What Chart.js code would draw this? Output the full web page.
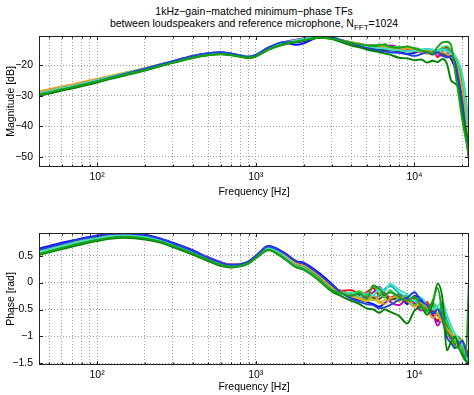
<!DOCTYPE html>
<html>
<head>
<meta charset="utf-8">
<script src="https://cdn.jsdelivr.net/npm/chart.js@4/dist/chart.umd.min.js"></script>
<style>
    html, body { margin: 0; padding: 0; background: #fff; }
    body { width: 474px; height: 395px; position: relative; overflow: hidden; font-family: "Liberation Sans", Arial, sans-serif; }
    .fig-title { position: absolute; left: 39px; top: 5px; width: 430px; text-align: center; font-size: 10.5px; line-height: 12px; color: #000; }
    .fig-title sub { font-size: 8px; vertical-align: -3px; line-height: 0; }
    #wrapTop { position: absolute; left: 0; top: 0; }
    #wrapBot { position: absolute; left: 0; top: 200px; }
</style>
</head>
<body>
<div class="fig-title">1kHz−gain−matched minimum−phase TFs<br>between loudspeakers and reference microphone, N<sub>FFT</sub>=1024</div>
<div id="wrapTop"><canvas id="magChart" width="474" height="200"></canvas></div>
<div id="wrapBot"><canvas id="phaseChart" width="474" height="195"></canvas></div>
<script>
// frequency bins (Hz)
const FREQ = [43.07, 50, 60, 70, 80, 100, 120, 150, 200, 250, 300, 400, 500, 600, 700, 800, 900, 1000, 1200, 1500, 1800, 2000, 2500, 3000, 3500, 4000, 4500, 5000, 5500, 6000, 6500, 7000, 8000, 9000, 10000, 11000, 12000, 13000, 14000, 15000, 16000, 17000, 18000, 19000, 20000, 21000, 22050];

// grid / tick positions
const X_GRID = [50, 60, 70, 80, 90, 100, 200, 300, 400, 500, 600, 700, 800, 900, 1000, 2000, 3000, 4000, 5000, 6000, 7000, 8000, 9000, 10000, 20000];
const X_LABELS = { 100: '10²', 1000: '10³', 10000: '10⁴' };
const MAG_TICKS = [-50, -40, -30, -20];
const PHASE_TICKS = [-1.5, -1, -0.5, 0, 0.5];

const COLORS = ['#0000ff', '#ff0000', '#00bfbf', '#bf00bf', '#c8c800', '#404040', '#33cc33', '#e0a030', '#40e0c0', '#2040e0', '#008000', '#1aa01a'];

// magnitude [dB], one array per loudspeaker
const mBlue   = [-29.9,-29.2,-28.2,-27.4,-26.7,-25.4,-24.3,-23.0,-21.3,-19.9,-18.8,-17.1,-16.2,-15.9,-16.3,-16.9,-17.4,-16.8,-14.4,-12.6,-13.4,-12.9,-11.0,-11.0,-11.9,-12.7,-13.4,-14.0,-14.3,-14.8,-15.2,-15.0,-15.6,-16.3,-16.0,-15.2,-14.8,-15.3,-16.1,-15.9,-16.8,-18.0,-21.0,-26.0,-33.0,-42.0,-50.0];
const mRed    = [-29.2,-28.5,-27.5,-26.8,-26.1,-24.9,-23.9,-22.7,-21.2,-19.9,-18.9,-17.3,-16.4,-16.1,-16.4,-16.9,-17.3,-16.8,-14.5,-12.8,-12.0,-11.5,-10.8,-11.2,-12.0,-12.6,-13.2,-13.6,-14.0,-14.1,-13.8,-14.3,-14.6,-14.4,-15.0,-15.8,-16.2,-15.0,-17.4,-15.5,-14.2,-16.0,-18.5,-20.0,-26.0,-35.0,-46.0];
const mCyan   = [-29.0,-28.3,-27.3,-26.6,-25.9,-24.8,-23.8,-22.6,-21.1,-19.8,-18.8,-17.2,-16.4,-16.1,-16.4,-16.9,-17.3,-16.7,-14.3,-12.5,-11.8,-11.3,-10.6,-11.0,-12.0,-12.8,-13.4,-14.1,-14.0,-13.9,-14.2,-14.5,-14.2,-14.6,-14.9,-15.1,-15.6,-15.9,-15.2,-14.6,-15.0,-15.8,-17.5,-20.5,-24.0,-30.0,-44.0];
const mMag    = [-29.1,-28.4,-27.4,-26.7,-26.0,-24.9,-23.9,-22.7,-21.2,-19.9,-18.9,-17.3,-16.4,-16.2,-16.5,-17.0,-17.4,-16.8,-14.4,-12.6,-11.7,-11.2,-10.7,-11.1,-12.1,-12.6,-13.0,-13.6,-13.4,-13.8,-14.0,-13.6,-14.2,-14.8,-15.0,-15.6,-16.0,-15.7,-16.5,-17.0,-16.2,-15.8,-19.5,-24.0,-30.0,-38.0,-48.0];
const mYel    = [-28.7,-28.0,-27.1,-26.4,-25.7,-24.6,-23.6,-22.5,-21.0,-19.8,-18.8,-17.3,-16.5,-16.3,-16.6,-17.1,-17.5,-17.0,-14.8,-13.0,-12.1,-11.6,-10.9,-11.2,-12.0,-12.5,-13.1,-13.5,-13.9,-14.2,-14.0,-14.4,-14.6,-14.1,-14.8,-15.6,-16.2,-16.5,-16.0,-16.6,-17.2,-16.8,-18.0,-22.0,-29.0,-40.0,-52.0];
const mGray   = [-29.4,-28.7,-27.7,-27.0,-26.3,-25.1,-24.1,-22.9,-21.4,-20.1,-19.1,-17.5,-16.6,-16.3,-16.6,-17.1,-17.5,-17.0,-14.7,-13.0,-12.3,-11.8,-11.0,-11.4,-12.3,-13.0,-13.6,-14.2,-14.6,-14.7,-14.9,-15.2,-15.3,-15.4,-15.6,-15.2,-15.0,-15.8,-15.6,-16.4,-17.0,-17.5,-20.0,-24.5,-31.0,-39.0,-49.0];
const mLime   = [-29.5,-28.8,-27.8,-27.1,-26.4,-25.2,-24.2,-23.0,-21.5,-20.2,-19.2,-17.6,-16.7,-16.4,-16.7,-17.2,-17.6,-17.1,-14.9,-13.2,-12.4,-11.9,-11.1,-11.5,-12.3,-12.9,-13.4,-13.7,-13.5,-13.3,-13.8,-14.2,-14.0,-14.5,-14.4,-14.9,-15.3,-15.1,-15.5,-14.3,-13.8,-15.2,-17.0,-20.0,-25.0,-33.0,-45.0];
const mTan    = [-28.6,-27.9,-27.0,-26.3,-25.6,-24.5,-23.6,-22.5,-21.1,-19.9,-18.9,-17.4,-16.6,-16.3,-16.6,-17.1,-17.5,-17.0,-14.7,-12.9,-12.0,-11.6,-10.9,-11.3,-12.2,-12.8,-13.3,-13.8,-14.1,-14.0,-14.3,-14.8,-15.0,-14.6,-15.2,-15.5,-15.1,-16.0,-16.3,-15.8,-16.5,-17.2,-19.0,-23.0,-28.0,-37.0,-47.0];
const mTurq   = [-29.2,-28.5,-27.5,-26.8,-26.1,-24.9,-23.9,-22.7,-21.2,-19.9,-18.9,-17.3,-16.4,-16.1,-16.4,-16.9,-17.3,-16.8,-14.5,-12.7,-11.9,-11.4,-10.7,-11.1,-12.0,-12.7,-13.3,-13.8,-14.2,-14.5,-14.6,-14.9,-15.2,-15.5,-15.4,-15.0,-14.7,-14.9,-15.4,-15.0,-15.5,-16.2,-17.0,-19.0,-23.0,-31.0,-43.0];
const mBlue2  = [-29.8,-29.1,-28.1,-27.3,-26.6,-25.3,-24.2,-22.9,-21.2,-19.8,-18.7,-17.0,-16.1,-15.8,-16.2,-16.8,-17.3,-16.7,-14.3,-12.5,-12.6,-12.2,-10.8,-11.0,-12.0,-12.9,-13.7,-14.5,-14.9,-15.3,-15.6,-15.8,-16.0,-16.5,-17.0,-16.4,-15.8,-16.6,-15.8,-16.9,-17.5,-17.0,-19.0,-25.0,-32.0,-41.0,-51.0];
const mGreen  = [-30.0,-29.3,-28.3,-27.6,-26.9,-25.7,-24.6,-23.4,-21.8,-20.4,-19.3,-17.7,-16.8,-16.5,-16.8,-17.3,-17.7,-17.2,-15.0,-13.3,-12.5,-12.0,-11.1,-11.4,-12.6,-13.6,-14.2,-14.9,-15.4,-15.8,-16.2,-16.6,-17.6,-17.8,-18.4,-18.2,-19.2,-18.6,-19.0,-18.0,-19.5,-25.0,-26.0,-28.0,-36.0,-41.0,-46.0];
const mGreen2 = [-29.6,-28.9,-27.9,-27.2,-26.5,-25.3,-24.3,-23.1,-21.6,-20.3,-19.2,-17.6,-16.7,-16.4,-16.7,-17.2,-17.6,-17.1,-14.9,-13.1,-12.3,-11.9,-11.0,-11.3,-12.1,-12.7,-13.2,-13.5,-13.8,-13.6,-13.2,-14.0,-14.4,-13.9,-14.6,-15.3,-15.6,-16.2,-14.0,-12.6,-12.4,-13.5,-22.0,-30.0,-38.0,-44.0,-50.0];

// phase [rad], one array per loudspeaker
const pBlue   = [0.63,0.68,0.74,0.78,0.82,0.87,0.91,0.92,0.89,0.82,0.74,0.60,0.47,0.38,0.33,0.34,0.39,0.49,0.68,0.56,0.40,0.37,0.18,-0.02,-0.20,-0.28,-0.32,-0.36,-0.40,-0.45,-0.38,-0.30,-0.22,-0.40,-0.25,-0.30,-0.50,-0.60,-0.72,-0.55,-0.85,-1.00,-1.10,-1.05,-1.20,-1.30,-1.50];
const pRed    = [0.58,0.63,0.69,0.74,0.78,0.83,0.87,0.89,0.86,0.80,0.72,0.58,0.46,0.37,0.33,0.34,0.39,0.49,0.66,0.52,0.36,0.33,0.14,-0.08,-0.15,-0.14,-0.22,-0.18,-0.10,-0.24,-0.20,-0.28,-0.22,-0.30,-0.40,-0.46,-0.36,-0.60,-0.70,-0.45,-0.78,-0.95,-1.15,-1.02,-1.10,-1.20,-1.40];
const pCyan   = [0.57,0.62,0.68,0.73,0.77,0.82,0.86,0.88,0.85,0.79,0.71,0.57,0.45,0.36,0.32,0.33,0.38,0.48,0.63,0.47,0.30,0.26,0.06,-0.13,-0.20,-0.23,-0.18,-0.28,-0.32,-0.22,-0.12,-0.06,-0.20,-0.28,-0.32,-0.45,-0.50,-0.42,-0.58,-0.40,-0.70,-0.90,-1.05,-1.20,-1.30,-1.40,-1.53];
const pMag    = [0.58,0.63,0.69,0.74,0.78,0.83,0.87,0.89,0.86,0.80,0.72,0.58,0.46,0.37,0.33,0.34,0.39,0.49,0.65,0.51,0.34,0.31,0.12,-0.10,-0.16,-0.24,-0.30,-0.26,-0.18,-0.08,-0.20,-0.35,-0.42,-0.30,-0.38,-0.52,-0.44,-0.55,-0.80,-0.66,-0.88,-1.05,-0.98,-1.12,-1.22,-1.35,-1.48];
const pYel    = [0.56,0.61,0.67,0.72,0.76,0.81,0.85,0.87,0.84,0.78,0.70,0.56,0.44,0.35,0.31,0.32,0.37,0.47,0.63,0.49,0.32,0.29,0.10,-0.12,-0.22,-0.26,-0.30,-0.35,-0.30,-0.38,-0.32,-0.28,-0.35,-0.26,-0.30,-0.42,-0.55,-0.48,-0.62,-0.75,-0.92,-0.98,-1.08,-1.18,-1.28,-1.38,-1.52];
const pGray   = [0.57,0.62,0.68,0.73,0.77,0.82,0.86,0.88,0.85,0.79,0.71,0.57,0.45,0.36,0.32,0.33,0.38,0.48,0.64,0.50,0.33,0.30,0.11,-0.09,-0.18,-0.20,-0.24,-0.22,-0.28,-0.30,-0.24,-0.32,-0.28,-0.36,-0.28,-0.40,-0.48,-0.52,-0.60,-0.58,-0.82,-1.00,-1.02,-1.10,-1.18,-1.30,-1.45];
const pLime   = [0.55,0.60,0.66,0.71,0.75,0.80,0.84,0.86,0.83,0.77,0.69,0.55,0.43,0.34,0.30,0.31,0.36,0.46,0.62,0.48,0.31,0.28,0.08,-0.11,-0.17,-0.21,-0.16,-0.25,-0.06,-0.20,-0.28,-0.14,-0.30,-0.24,-0.42,-0.36,-0.55,-0.38,-0.48,-0.62,-0.75,-0.90,-1.12,-1.00,-1.25,-1.35,-1.50];
const pTan    = [0.59,0.64,0.70,0.75,0.79,0.84,0.88,0.89,0.86,0.80,0.72,0.58,0.46,0.37,0.33,0.34,0.39,0.49,0.65,0.52,0.35,0.32,0.13,-0.08,-0.18,-0.25,-0.28,-0.32,-0.24,-0.34,-0.40,-0.30,-0.26,-0.34,-0.45,-0.38,-0.46,-0.66,-0.58,-0.70,-0.85,-0.95,-1.00,-1.15,-1.05,-1.28,-1.45];
const pTurq   = [0.57,0.62,0.68,0.73,0.77,0.82,0.86,0.88,0.85,0.79,0.71,0.57,0.45,0.36,0.32,0.33,0.38,0.48,0.64,0.49,0.31,0.27,0.05,-0.15,-0.22,-0.18,-0.26,-0.20,-0.24,-0.10,-0.16,-0.02,-0.14,-0.22,-0.34,-0.28,-0.42,-0.50,-0.44,-0.35,-0.60,-0.80,-0.95,-1.05,-1.15,-1.30,-1.55];
const pBlue2  = [0.61,0.66,0.72,0.77,0.81,0.86,0.90,0.91,0.88,0.81,0.73,0.59,0.46,0.37,0.33,0.34,0.39,0.50,0.67,0.55,0.39,0.35,0.16,-0.04,-0.20,-0.30,-0.36,-0.40,-0.42,-0.48,-0.46,-0.42,-0.32,-0.28,-0.18,-0.35,-0.42,-0.58,-0.50,-0.68,-1.02,-1.12,-1.22,-1.15,-1.08,-1.25,-1.42];
const pGreen  = [0.51,0.56,0.62,0.67,0.71,0.77,0.81,0.83,0.80,0.74,0.66,0.52,0.40,0.31,0.28,0.30,0.35,0.45,0.60,0.45,0.28,0.24,0.04,-0.16,-0.26,-0.34,-0.40,-0.48,-0.50,-0.56,-0.50,-0.54,-0.62,-0.76,-0.52,-0.46,-0.60,-0.40,-0.02,-0.30,-1.26,-1.10,-1.00,-1.20,-1.35,-1.45,-1.50];
const pGreen2 = [0.53,0.58,0.64,0.69,0.73,0.79,0.83,0.85,0.82,0.76,0.68,0.54,0.42,0.33,0.29,0.31,0.36,0.46,0.61,0.46,0.29,0.25,0.05,-0.14,-0.20,-0.25,-0.20,-0.30,-0.05,-0.12,-0.22,-0.18,-0.26,-0.34,-0.26,-0.44,-0.52,-0.34,-0.10,-0.58,-0.92,-1.02,-1.18,-1.22,-1.30,-1.40,0.05];

const MAG = [mBlue, mRed, mCyan, mMag, mYel, mGray, mLime, mTan, mTurq, mBlue2, mGreen, mGreen2];
const PHASE = [pBlue, pRed, pCyan, pMag, pYel, pGray, pLime, pTan, pTurq, pBlue2, pGreen, pGreen2];

const FONT = { family: '"Liberation Sans", Arial, sans-serif', size: 10.5 };
const GRID_COLOR = '#a0a0a0';

function fmtNum(v) {
    return String(v).replace('-', '−');
}

// MATLAB style frame: full box + inward ticks
const boxPlugin = {
    id: 'box',
    afterDraw(chart) {
        const { ctx, chartArea: a, scales: { x, y } } = chart;
        ctx.save();
        ctx.strokeStyle = '#222';
        ctx.lineWidth = 1;
        ctx.strokeRect(a.left + 0.5, a.top + 0.5, a.right - a.left - 1, a.bottom - a.top - 1);
        ctx.beginPath();
        x.ticks.forEach(t => {
            const px = Math.round(x.getPixelForValue(t.value)) + 0.5;
            const len = X_LABELS[t.value] ? 4 : 2.5;
            ctx.moveTo(px, a.bottom); ctx.lineTo(px, a.bottom - len);
            ctx.moveTo(px, a.top); ctx.lineTo(px, a.top + len);
        });
        y.ticks.forEach(t => {
            const py = Math.round(y.getPixelForValue(t.value)) + 0.5;
            ctx.moveTo(a.left, py); ctx.lineTo(a.left + 4, py);
            ctx.moveTo(a.right, py); ctx.lineTo(a.right - 4, py);
        });
        ctx.stroke();
        ctx.restore();
    }
};

function buildDatasets(list) {
    const ds = list.map((vals, i) => ({
        data: FREQ.map((f, k) => ({ x: f, y: vals[k] })),
        borderColor: COLORS[i],
        backgroundColor: 'transparent',
        borderWidth: 1.9,
        pointRadius: 0,
        tension: 0.3,
        cubicInterpolationMode: 'monotone',
    }));
    return ds.reverse(); // chart.js paints index 0 last
}

function makeChart(canvasId, list, cfg) {
    return new Chart(document.getElementById(canvasId), {
        type: 'line',
        data: { datasets: buildDatasets(list) },
        options: {
            responsive: false,
            animation: false,
            layout: { padding: { top: cfg.padTop, right: 5, bottom: 0, left: 0 } },
            plugins: { legend: { display: false }, tooltip: { enabled: false } },
            scales: {
                x: {
                    type: 'logarithmic',
                    min: 43.07,
                    max: 22050,
                    afterBuildTicks: ax => { ax.ticks = X_GRID.map(v => ({ value: v })); },
                    afterFit: ax => { ax.height = cfg.xHeight; },
                    ticks: { autoSkip: false, maxRotation: 0, padding: 4, color: '#000', font: FONT,
                             callback: v => X_LABELS[v] || '' },
                    grid: { color: GRID_COLOR, drawTicks: false },
                    border: { display: false, dash: [1, 2] },
                    title: { display: true, text: 'Frequency [Hz]', color: '#000', font: FONT, padding: { top: 0, bottom: 2 } },
                },
                y: {
                    min: cfg.yMin,
                    max: cfg.yMax,
                    afterBuildTicks: ax => { ax.ticks = cfg.yTicks.map(v => ({ value: v })); },
                    afterFit: ax => { ax.width = 39; },
                    ticks: { padding: 6, color: '#000', font: FONT, callback: v => fmtNum(v) },
                    grid: { color: GRID_COLOR, drawTicks: false },
                    border: { display: false, dash: [1, 2] },
                    title: { display: true, text: cfg.yTitle, color: '#000', font: FONT, padding: { top: 5, bottom: 0 } },
                },
            },
        },
        plugins: [boxPlugin],
    });
}

makeChart('magChart', MAG, { padTop: 36, xHeight: 33, yMin: -53.3, yMax: -10.5, yTicks: MAG_TICKS, yTitle: 'Magnitude [dB]' });
makeChart('phaseChart', PHASE, { padTop: 33, xHeight: 30, yMin: -1.53, yMax: 0.92, yTicks: PHASE_TICKS, yTitle: 'Phase [rad]' });
</script>
</body>
</html>
